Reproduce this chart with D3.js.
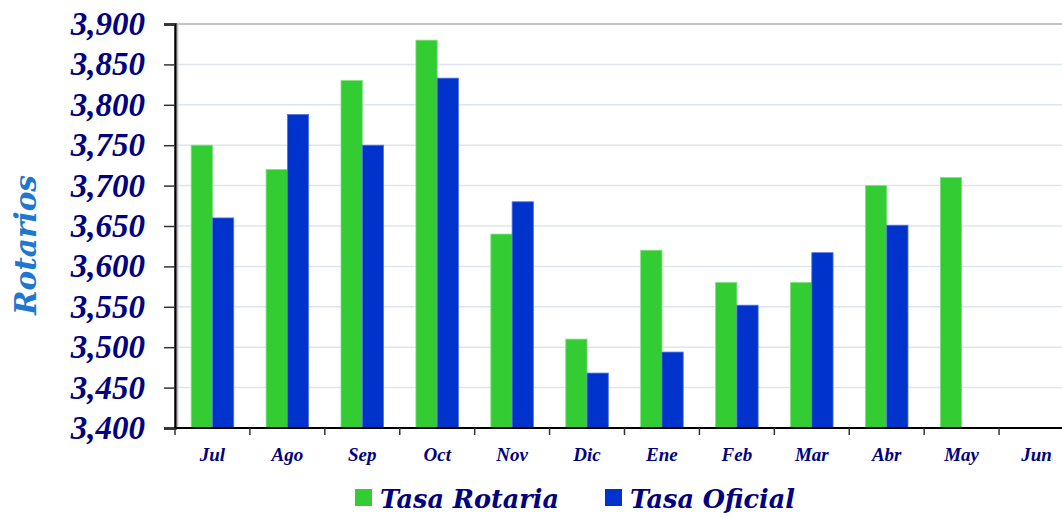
<!DOCTYPE html>
<html>
<head>
<meta charset="utf-8">
<script src="https://cdn.jsdelivr.net/npm/d3@7"></script>
<style>
  body { margin: 0; background: #fff; }
  svg text { font-family: "Liberation Serif", "DejaVu Serif", serif; font-weight: bold; font-style: italic; }
  svg text.wide { font-family: "DejaVu Serif", serif; }
</style>
</head>
<body>
<div id="graph"></div>
<script>
// categories and values
var months = ["Jul", "Ago", "Sep", "Oct", "Nov", "Dic", "Ene", "Feb", "Mar", "Abr", "May", "Jun"];
var tasaRotaria = [3750, 3720, 3830, 3880, 3640, 3510, 3620, 3580, 3580, 3700, 3710, null];
var tasaOficial = [3660, 3788, 3750, 3833, 3680, 3468, 3494, 3552, 3617, 3651, null, null];
var yTicks = [3400, 3450, 3500, 3550, 3600, 3650, 3700, 3750, 3800, 3850, 3900];
var seriesNames = ["Tasa Rotaria", "Tasa Oficial"];
var colors = ["#33cc33", "#0033cc"];

var W = 1062, H = 518;
var margin = {top: 24, left: 175, bottom: 90};
var plotRight = 1074;

var svg = d3.select("#graph").append("svg")
    .attr("width", W)
    .attr("height", H);

var x = d3.scaleBand().domain(months).range([margin.left, plotRight]);
var xs = d3.scaleBand().domain(seriesNames).range([0, x.bandwidth()]).paddingInner(0).paddingOuter(0.76);
var y = d3.scaleLinear().domain([3400, 3900]).range([H - margin.bottom, margin.top]);

// gridlines
svg.append("g")
  .selectAll("line")
  .data(yTicks.slice(1, -1))
  .enter().append("line")
    .attr("x1", margin.left).attr("x2", W)
    .attr("y1", function(d){ return y(d); })
    .attr("y2", function(d){ return y(d); })
    .attr("stroke", "#dde6f0")
    .attr("stroke-width", 1.5);

// top border
svg.append("line")
  .attr("x1", margin.left).attr("x2", W)
  .attr("y1", y(3900)).attr("y2", y(3900))
  .attr("stroke", "#b0b0b0").attr("stroke-width", 1.5);

// bars
var rows = months.map(function(m, i){
  return { month: m, values: [tasaRotaria[i], tasaOficial[i]] };
});
var groups = svg.append("g").selectAll("g")
  .data(rows)
  .enter().append("g")
    .attr("transform", function(d){ return "translate(" + x(d.month) + ",0)"; });

groups.selectAll("rect")
  .data(function(d){
    return d.values.map(function(v, k){ return { name: seriesNames[k], value: v, k: k }; })
      .filter(function(e){ return e.value != null; });
  })
  .enter().append("rect")
    .attr("x", function(d){ return xs(d.name); })
    .attr("width", xs.bandwidth())
    .attr("y", function(d){ return y(d.value); })
    .attr("height", function(d){ return y(3400) - y(d.value); })
    .attr("fill", function(d){ return colors[d.k]; })
    .attr("stroke", function(d){ return d.k === 0 ? "#7ee07e" : "#5577dd"; })
    .attr("stroke-width", 0.8);

// y axis
var yAxis = svg.append("g")
  .attr("transform", "translate(" + margin.left + ",0)")
  .call(d3.axisLeft(y).tickValues(yTicks).tickFormat(d3.format(",")).tickSize(11).tickPadding(19));
yAxis.select(".domain").attr("stroke", "#000").attr("stroke-width", 2.5);
yAxis.selectAll(".tick line").attr("stroke", "#333").attr("stroke-width", 1.5);
yAxis.selectAll("text")
  .attr("fill", "#000080")
  .style("font-size", "33px");

// shadow next to the y axis
svg.append("line")
  .attr("x1", margin.left + 2.5).attr("x2", margin.left + 2.5)
  .attr("y1", y(3900)).attr("y2", y(3400))
  .attr("stroke", "#bbbbbb").attr("stroke-width", 1.5);

// x axis
var xAxis = svg.append("g")
  .attr("transform", "translate(0," + y(3400) + ")");
xAxis.append("line")
  .attr("x1", margin.left).attr("x2", W)
  .attr("stroke", "#000").attr("stroke-width", 2);
xAxis.selectAll(".tk")
  .data(months)
  .enter().append("line")
    .attr("x1", function(d){ return x(d); })
    .attr("x2", function(d){ return x(d); })
    .attr("y1", 0).attr("y2", 7)
    .attr("stroke", "#333").attr("stroke-width", 1.5);
xAxis.selectAll(".lbl")
  .data(months)
  .enter().append("text")
    .attr("x", function(d){ return x(d) + x.bandwidth() / 2; })
    .attr("y", 33)
    .attr("text-anchor", "middle")
    .attr("fill", "#000080")
    .style("font-size", "19px")
    .text(function(d){ return d; });

// y title
svg.append("text")
  .attr("class", "wide")
  .attr("transform", "translate(36,245) rotate(-90)")
  .attr("text-anchor", "middle")
  .attr("fill", "#1f78d0")
  .style("font-size", "29.5px")
  .text("Rotarios");

// legend
var legendX = [355, 605];
var legend = svg.append("g").selectAll("g")
  .data(seriesNames)
  .enter().append("g")
    .attr("transform", function(d, i){ return "translate(" + legendX[i] + ",489)"; });
legend.append("rect")
  .attr("width", 17).attr("height", 17)
  .attr("fill", function(d, i){ return colors[i]; });
legend.append("text")
  .attr("class", "wide")
  .attr("x", 25).attr("y", 19)
  .attr("fill", "#000080")
  .style("font-size", "25.5px")
  .text(function(d){ return d; });
</script>
</body>
</html>
